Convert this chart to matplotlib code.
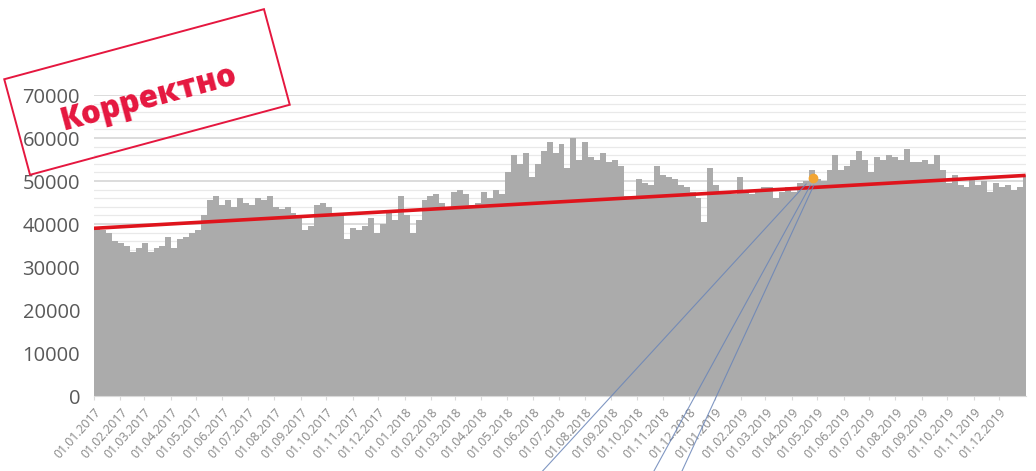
import numpy as np
import pandas as pd
import matplotlib
matplotlib.use('Agg')
import matplotlib.pyplot as plt
import matplotlib.dates as mdates
from matplotlib.patches import Rectangle
from matplotlib.transforms import Affine2D

# weekly values, starting 01.01.2017
weekly = [
    39000, 38500, 38000, 36000, 35500, 35000, 33500, 34500, 35500, 33500,
    34500, 35000, 37000, 34500, 36500, 37000, 38000, 38500, 42000, 45500,
    46500, 44500, 45500, 44000, 46000, 45000, 44500, 46000, 45500, 46500,
    44000, 43500, 44000, 42500, 42000, 38500, 39500, 44500, 45000, 44000,
    42000, 42500, 36500, 39000, 38500, 39500, 41500, 38000, 40000, 42500,
    41000, 46500, 42000, 38000, 41000, 45500, 46500, 47000, 45000, 44000,
    47500, 48000, 47000, 44500, 45000, 47500, 46000, 48000, 47000, 52000,
    56000, 54000, 56500, 51000, 54000, 57000, 59000, 56500, 58500, 53000,
    60000, 55000, 59000, 55500, 55000, 56500, 54500, 55000, 53500, 46500,
    46000, 50500, 49500, 49000, 53500, 51500, 51000, 50500, 49000, 48500,
    47500, 46000, 40500, 53000, 49000, 47000, 47500, 47000, 51000, 47500,
    47000, 47500, 48500, 48500, 46000, 47500, 48500, 47500, 49500, 50000,
    52500, 50500, 50000, 52500, 56000, 52500, 53500, 55000, 57000, 55000,
    52000, 55500, 55000, 56000, 55500, 55000, 57500, 54500, 54500, 55000,
    54000, 56000, 52500, 49500, 51500, 49000, 48500, 50500, 49000, 50000,
    47500, 49500, 48500, 49000, 48000, 48500, 51500,
]
weeks = pd.date_range('2017-01-01', periods=len(weekly), freq='7D')

trend_dates = ['2017-01-01', '2020-01-01']
trend_values = [39000, 51300]

dot_date = '2019-04-26'
dot_value = 50600

# thin pointer lines running from the dot down past the axis
ptr_start_dates = ['2019-04-18', '2019-04-23', '2019-04-27']
ptr_start_values = [49300, 49000, 49000]
ptr_end_dates = ['2018-06-12', '2018-10-21', '2018-11-23']
ptr_end_value = -17500

month_ticks = pd.date_range('2017-01-01', '2019-12-01', freq='MS')

fig = plt.figure(figsize=(10.36, 4.71), dpi=100)
ax = fig.add_axes([0.0907, 0.1592, 0.8993, 0.6391])

ax.set_ylim(0, 70000)
ax.set_xlim(pd.Timestamp('2017-01-01'), pd.Timestamp('2020-01-01'))

for v in range(2000, 70001, 2000):
    major = v % 10000 == 0
    ax.axhline(v, color='#d2d2d2' if major else '#e9e9e9',
               lw=1.1 if major else 0.9, zorder=0)

ax.bar(weeks, weekly, width=7, align='edge', color='#ababab',
       linewidth=0, zorder=1)

ax.plot(pd.to_datetime(trend_dates), trend_values, color='#df141c',
        lw=2.6, zorder=3, solid_capstyle='butt')

for sd, sv, ed in zip(ptr_start_dates, ptr_start_values, ptr_end_dates):
    ax.plot(pd.to_datetime([sd, ed]), [sv, ptr_end_value], color='#6a85b8',
            lw=0.8, alpha=0.85, zorder=4, clip_on=False)

ax.plot(pd.Timestamp(dot_date), dot_value, 'o', color='#f2a533', ms=6,
        mec='#f2a533', zorder=5)

for s in ['top', 'right', 'left']:
    ax.spines[s].set_visible(False)
ax.spines['bottom'].set_color('#d9d9d9')

ax.set_yticks(range(0, 70001, 10000))
ax.tick_params(axis='y', length=0, pad=10, labelsize=14.5, labelcolor='#595959')
for lab in ax.get_yticklabels():
    lab.set_fontfamily('Open Sans')

ax.set_xticks(month_ticks)
ax.set_xticklabels([d.strftime('%d.%m.%Y') for d in month_ticks],
                   rotation=48, ha='right', va='top', rotation_mode='anchor',
                   fontsize=8.8, color='#888888', family='Open Sans')
ax.tick_params(axis='x', length=3, color='#d9d9d9', pad=4)

# stamp in the top-left corner
cx, cy = 147, 471 - 92
w, h = 269, 99
tr = Affine2D().rotate_deg(15.1).translate(cx, cy).scale(1 / 100) + fig.dpi_scale_trans
fig.patches.append(Rectangle((-w / 2, -h / 2), w, h, fill=False,
                             edgecolor='#e5173f', lw=1.4, transform=tr,
                             figure=fig, zorder=10))
fig.text(149 / 1036, 1 - 99 / 471, 'Корректно', rotation=15.1,
         ha='center', va='center', rotation_mode='anchor',
         fontsize=22.5, fontweight='heavy', color='#e5173f',
         family='Open Sans', zorder=11)

fig.savefig('out.png', dpi=100)
